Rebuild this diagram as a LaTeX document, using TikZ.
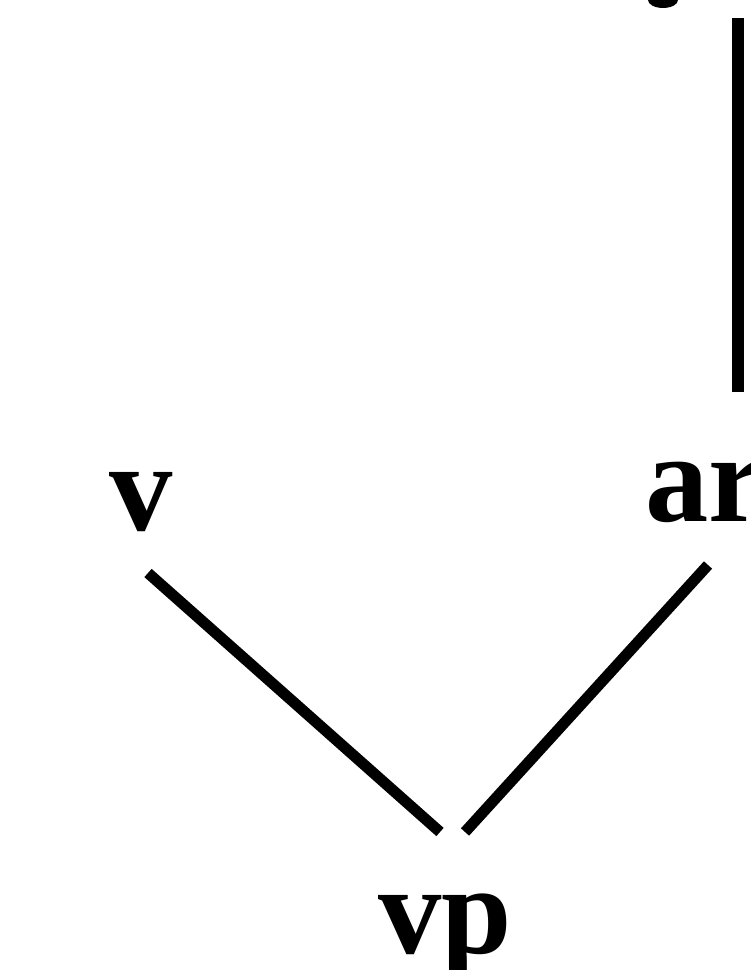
\documentclass[tikz,border=0pt]{standalone}
\usepackage{fontspec}
\setmainfont{Liberation Serif}
\usetikzlibrary{positioning, calc}

\begin{document}
\begin{tikzpicture}[x=0.1mm, y=-0.1mm,
    cat/.style={font=\fontsize{36}{40}\selectfont\bfseries, inner sep=0pt},
    branch/.style={line width=1.1mm}]
  \useasboundingbox (0,0) rectangle (750,970);
  \clip (0,0) rectangle (750,970);

  % categories
  \node[cat, anchor=base] (v) at (141,530) {v};
  \node[cat, anchor=base west] (ar) at (645,522) {ar};
  \node[cat, anchor=base] (vp) at (445,953) {vp};
  \coordinate (up) at (738,18);
  \fill (663,0) ellipse [x radius=1.5mm, y radius=0.8mm];

  % branches
  \draw[branch] ([shift={(7,43)}]v.base) -- ([shift={(-5,-121)}]vp.base);
  \draw[branch] ([shift={(63,43)}]ar.base west) -- ([shift={(20,-121)}]vp.base);
  \draw[branch, line width=1.25mm] (up) -- ([shift={(93,-130)}]ar.base west);
\end{tikzpicture}
\end{document}
